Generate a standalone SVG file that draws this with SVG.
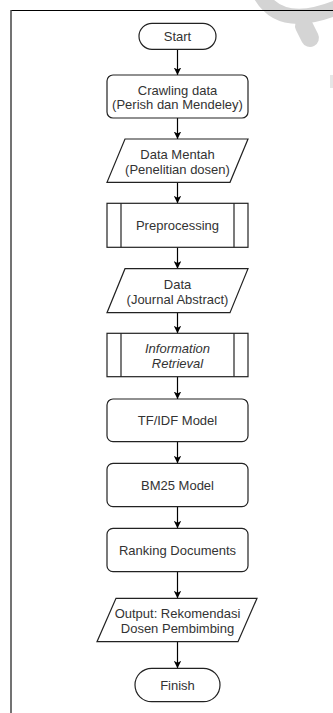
<svg xmlns="http://www.w3.org/2000/svg" width="333" height="713" viewBox="0 0 333 713">
<defs>
<marker id="ah" viewBox="0 0 10 10" refX="10" refY="5" markerWidth="7.5" markerHeight="7.5" markerUnits="userSpaceOnUse" orient="auto">
<path d="M0,0 L10,5 L0,10 L2.5,5 Z" fill="#000"/>
</marker>
<style>
.s{fill:#fff;stroke:#222;stroke-width:1.2}
.t{font-family:"Liberation Sans",Arial,sans-serif;font-size:13px;fill:#333;text-anchor:middle}
.i{font-style:italic}
.c{stroke:#000;stroke-width:1.2;fill:none;marker-end:url(#ah)}
</style>
</defs>
<rect width="333" height="713" fill="#fff"/>
<g id="watermark" fill="none" stroke="#d4d4d4" stroke-linecap="round">
<path d="M260 -6 Q 280 30 336 8" stroke-width="15"/>
<path d="M304 26 L310 38" stroke-width="18"/>
<rect x="330" y="75" width="3" height="13" fill="#e6e6e6" stroke="none"/>
</g>
<g id="frame">
<line x1="11" y1="10.5" x2="333" y2="10.5" stroke="#000" stroke-width="1"/>
<line x1="11" y1="10" x2="11" y2="713" stroke="#444" stroke-width="1.5"/>
</g>
<g id="connectors">
<line class="c" x1="177.5" y1="49.3" x2="177.5" y2="75"/>
<line class="c" x1="177.5" y1="118" x2="177.5" y2="139"/>
<line class="c" x1="177.5" y1="182.3" x2="177.5" y2="203.3"/>
<line class="c" x1="177.5" y1="247.3" x2="177.5" y2="268.7"/>
<line class="c" x1="177.5" y1="312.7" x2="177.5" y2="333.3"/>
<line class="c" x1="177.5" y1="376.7" x2="177.5" y2="399"/>
<line class="c" x1="177.5" y1="441.7" x2="177.5" y2="463.3"/>
<line class="c" x1="177.5" y1="506.7" x2="177.5" y2="528.3"/>
<line class="c" x1="177.5" y1="571.7" x2="177.5" y2="598.3"/>
<line class="c" x1="177.5" y1="641.7" x2="177.5" y2="668.3"/>
</g>
<g id="start">
<rect class="s" x="139" y="23.3" width="77" height="26" rx="13"/>
<text class="t" x="177.5" y="40.8">Start</text>
</g>
<g id="crawling">
<rect class="s" x="107" y="75" width="141" height="43" rx="6"/>
<text class="t" x="177.5" y="94.5">Crawling data</text>
<text class="t" x="177.5" y="109">(Perish dan Mendeley)</text>
</g>
<g id="data-mentah">
<polygon class="s" points="125,139 248,139 230,182.3 107,182.3"/>
<text class="t" x="177.5" y="159">Data Mentah</text>
<text class="t" x="177.5" y="174">(Penelitian dosen)</text>
</g>
<g id="preprocessing">
<rect class="s" x="107" y="203.3" width="141" height="44"/>
<line class="s" x1="121" y1="203.3" x2="121" y2="247.3"/>
<line class="s" x1="234" y1="203.3" x2="234" y2="247.3"/>
<text class="t" x="177.5" y="229.8">Preprocessing</text>
</g>
<g id="data-abstract">
<polygon class="s" points="125,268.7 248,268.7 230,312.7 107,312.7"/>
<text class="t" x="177.5" y="288.5">Data</text>
<text class="t" x="177.5" y="303.5">(Journal Abstract)</text>
</g>
<g id="information-retrieval">
<rect class="s" x="107" y="333.3" width="141" height="43.4"/>
<line class="s" x1="121" y1="333.3" x2="121" y2="376.7"/>
<line class="s" x1="234" y1="333.3" x2="234" y2="376.7"/>
<text class="t i" x="177.5" y="352.5">Information</text>
<text class="t i" x="177.5" y="367.5">Retrieval</text>
</g>
<g id="tfidf">
<rect class="s" x="107" y="399" width="141" height="42.7" rx="6"/>
<text class="t" x="177.5" y="424.8">TF/IDF Model</text>
</g>
<g id="bm25">
<rect class="s" x="107" y="463.3" width="141" height="43.4" rx="6"/>
<text class="t" x="177.5" y="489.5">BM25 Model</text>
</g>
<g id="ranking">
<rect class="s" x="107" y="528.3" width="141" height="43.4" rx="6"/>
<text class="t" x="177.5" y="554.5">Ranking Documents</text>
</g>
<g id="output">
<polygon class="s" points="116,598.3 257,598.3 238,641.7 97,641.7"/>
<text class="t" x="177.5" y="618">Output: Rekomendasi</text>
<text class="t" x="177.5" y="633">Dosen Pembimbing</text>
</g>
<g id="finish">
<rect class="s" x="135" y="668.3" width="85" height="33.4" rx="16.7"/>
<text class="t" x="177.5" y="689.5">Finish</text>
</g>
</svg>
